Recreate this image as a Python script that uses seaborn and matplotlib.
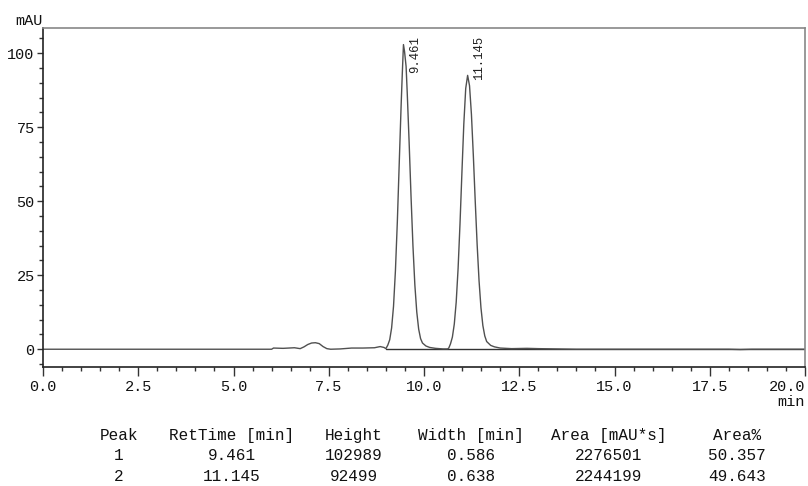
import matplotlib
import matplotlib.pyplot as plt
import pandas as pd
import seaborn as sns
from matplotlib.ticker import MultipleLocator

matplotlib.use("Agg")

# chromatogram trace (time in min, signal in mAU)
TIME = [
    0.0, 3.5, 6.0, 6.05, 6.3, 6.6, 6.75, 6.85, 6.95, 7.05, 7.15, 7.25, 7.35,
    7.45, 7.55, 7.8, 8.1, 8.4, 8.7, 8.85, 8.95, 9.0,
    9.05, 9.10, 9.15, 9.20, 9.25, 9.30, 9.35, 9.40, 9.43, 9.461, 9.49, 9.53,
    9.56, 9.61, 9.66, 9.71, 9.76, 9.81, 9.86, 9.91, 9.96, 10.05, 10.15, 10.3,
    10.5, 10.62, 10.65,
    10.695, 10.745, 10.795, 10.845, 10.895, 10.945, 10.995, 11.045, 11.095,
    11.145, 11.195, 11.245, 11.295, 11.345, 11.395, 11.445, 11.495, 11.545,
    11.595, 11.645, 11.75, 11.85, 12.0, 12.3, 12.7, 13.0, 13.5, 14.0, 18.0,
    18.3, 18.6, 20.0,
]
SIGNAL = [
    0.0, 0.0, 0.0, 0.4, 0.3, 0.5, 0.2, 0.8, 1.6, 2.1, 2.2, 1.9, 0.9,
    0.2, 0.0, 0.1, 0.4, 0.4, 0.5, 0.9, 0.6, 0.2,
    1.4, 3.2, 7.2, 14.5, 26.5, 43.0, 62.8, 82.5, 93.0, 102.9, 100.5, 95.5,
    86.6, 69.8, 51.5, 34.9, 21.7, 12.6, 6.8, 3.6, 2.1, 1.1, 0.6, 0.3,
    0.1, 0.1, 0.4,
    1.8, 4.1, 8.5, 15.9, 27.3, 42.4, 59.6, 76.1, 88.1,
    92.5, 89.0, 79.3, 65.4, 49.9, 35.3, 23.1, 14.0, 8.0,
    4.5, 2.6, 1.3, 0.8, 0.4, 0.2, 0.3, 0.2, 0.1, 0.0, 0.0,
    -0.1, 0.0, 0.0,
]

# integration baseline under the peaks
BASE_TIME = [9.0, 20.0]
BASE_SIGNAL = [0.0, 0.0]

X_TICKS = [0.0, 2.5, 5.0, 7.5, 10.0, 12.5, 15.0, 17.5, 20.0]
X_TICK_LABELS = ["0.0", "2.5", "5.0", "7.5", "10.0", "12.5", "15.0", "17.5", "20.0"]

PEAK_LABELS = ["9.461", "11.145"]
PEAK_LABEL_TIME = [9.76, 11.44]

TABLE_HEADER = ["Peak", "RetTime [min]", "Height", "Width [min]", "Area [mAU*s]", "Area%"]
PEAK_ID = ["1", "2"]
RET_TIME = ["9.461", "11.145"]
HEIGHT = ["102989", "92499"]
WIDTH = ["0.586", "0.638"]
AREA = ["2276501", "2244199"]
AREA_PCT = ["50.357", "49.643"]

sns.set_theme(style="ticks")
plt.rcParams["font.family"] = ["Liberation Mono", "DejaVu Sans"]

FS = 11.5
trace = pd.DataFrame({"time": TIME, "signal": SIGNAL})
base = pd.DataFrame({"time": BASE_TIME, "signal": BASE_SIGNAL})

fig = plt.figure(figsize=(8.08, 4.86), dpi=100)
ax = fig.add_axes([43 / 808, 1 - 366.7 / 486, 762 / 808, (366.7 - 28.3) / 486])

sns.lineplot(data=base, x="time", y="signal", ax=ax, color="#333333", lw=1.0)
sns.lineplot(data=trace, x="time", y="signal", ax=ax, color="#505050", lw=1.0,
             estimator=None, sort=False)

ax.set_xlim(0, 20)
ax.set_ylim(-5.9, 108.4)
ax.set_xlabel("")
ax.set_ylabel("")

ax.set_xticks(X_TICKS)
ax.set_xticklabels(X_TICK_LABELS)
ax.xaxis.set_minor_locator(MultipleLocator(0.5))
ax.yaxis.set_major_locator(MultipleLocator(25))
ax.yaxis.set_minor_locator(MultipleLocator(5))
ax.tick_params(axis="x", which="major", length=6.5, width=1, color="#333333",
               labelsize=FS - 0.5, pad=3, labelcolor="#111111")
ax.tick_params(axis="x", which="minor", length=3, width=1, color="#333333")
ax.tick_params(axis="y", which="major", length=4, width=1, color="#333333",
               labelsize=FS - 0.5, pad=2, labelcolor="#111111")
ax.tick_params(axis="y", which="minor", length=3, width=1, color="#333333")

# last x label sits flush with the right edge
for lab in ax.get_xticklabels():
    if lab.get_text() == X_TICK_LABELS[-1]:
        lab.set_horizontalalignment("right")

for side in ["left", "bottom"]:
    ax.spines[side].set_color("#222222")
    ax.spines[side].set_linewidth(1.2)
for side in ["top", "right"]:
    ax.spines[side].set_color("#888888")
    ax.spines[side].set_linewidth(1.2)

for lab, t in zip(PEAK_LABELS, PEAK_LABEL_TIME):
    ax.text(t, 105.8, lab, rotation=90, ha="center", va="top",
            fontsize=8.8, color="#222222")

fig.text(43 / 808, 1 - 21 / 486, "mAU", ha="right", va="center", fontsize=FS - 0.5, color="#111111")
fig.text(805 / 808, 1 - 402 / 486, "min", ha="right", va="center", fontsize=FS - 0.5, color="#111111")

col_x = [119, 232, 354, 471, 609, 737]
rows = [TABLE_HEADER] + [list(r) for r in zip(PEAK_ID, RET_TIME, HEIGHT, WIDTH, AREA, AREA_PCT)]
row_y = [435, 455, 476]
for y, row in zip(row_y, rows):
    for x, cell in zip(col_x, row):
        fig.text(x / 808, 1 - y / 486, cell, ha="center", va="center",
                 fontsize=FS, color="#111111")

fig.savefig("out.png", dpi=100)
